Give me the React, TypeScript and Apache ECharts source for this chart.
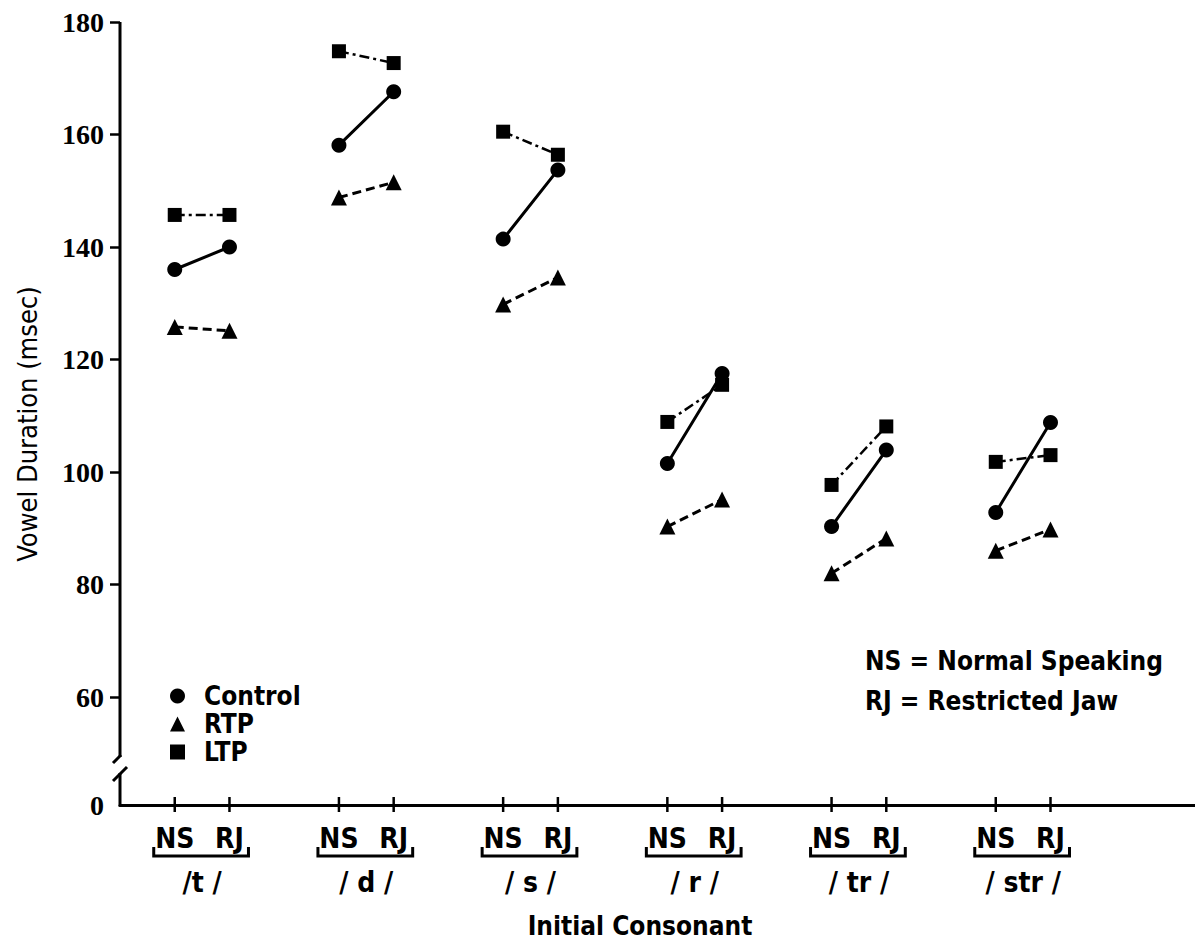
import React, { useEffect, useRef } from 'react';
import * as echarts from 'echarts';

// ---- data ----
const consonants = ['/t /', '/ d /', '/ s /', '/ r /', '/ tr /', '/ str /'];
const conditions = ['NS', 'RJ'];
const controlNS = [136.0, 158.1, 141.4, 101.5, 90.3, 92.8];
const controlRJ = [140.0, 167.6, 153.7, 117.5, 103.9, 108.8];
const rtpNS = [125.8, 148.8, 129.8, 90.3, 82.0, 86.0];
const rtpRJ = [125.1, 151.5, 134.6, 95.1, 88.2, 89.8];
const ltpNS = [145.7, 174.8, 160.5, 108.9, 97.7, 101.8];
const ltpRJ = [145.7, 172.7, 156.4, 115.5, 108.1, 103.0];
const yTicks = [60, 80, 100, 120, 140, 160, 180];
const yBreakValue = 40.8; // plotted position that stands for 0 below the axis break

const FF = "'Liberation Sans Narrow', 'DejaVu Sans Condensed', 'Roboto Condensed', 'Arial Narrow', sans-serif";
const SERIF = "'Liberation Serif', 'DejaVu Serif', serif";

const xPos = (i: number, c: number) => 3 * i + 1 + c;

function pairs(ns: number[], rj: number[]) {
  const d: any[] = [];
  ns.forEach((v, i) => {
    d.push([xPos(i, 0), v]);
    d.push([xPos(i, 1), rj[i]]);
    d.push([xPos(i, 1) + 0.5, null]);
  });
  return d;
}

const xLabelValues: number[] = [];
consonants.forEach((_, i) => conditions.forEach((__, c) => xLabelValues.push(xPos(i, c))));

export default function App() {
  const ref = useRef<HTMLDivElement>(null);
  useEffect(() => {
    document.body.style.margin = '0';
    const chart = echarts.init(ref.current!, undefined, { renderer: 'svg' });
    const option: any = {
      animation: false,
      backgroundColor: '#fff',
      grid: { left: 120, right: 0, top: 22, bottom: 140, containLabel: false },
      xAxis: {
        type: 'value',
        min: 0,
        max: 19.64,
        splitLine: { show: false },
        axisLine: { show: true, onZero: false, lineStyle: { color: '#000', width: 3 } },
        axisTick: { show: false },
        axisLabel: {
          customValues: xLabelValues,
          formatter: (v: number) => conditions[Math.round(v - 1) % 3],
          margin: 19,
          fontSize: 28,
          fontFamily: FF,
          fontWeight: 'bold',
          color: '#000',
          lineHeight: 28,
        },
      },
      yAxis: {
        type: 'value',
        min: yBreakValue,
        max: 180,
        splitLine: { show: false },
        axisLine: { show: false },
        axisTick: { show: true, customValues: yTicks, length: 10, lineStyle: { color: '#000', width: 2.5 } },
        axisLabel: {
          customValues: [yBreakValue, ...yTicks],
          formatter: (v: number) => (v < 50 ? '0' : String(v)),
          margin: 16,
          fontSize: 28,
          fontFamily: SERIF,
          fontWeight: 'bold',
          color: '#000',
        },
      },
      legend: {
        orient: 'vertical',
        left: 165,
        top: 678,
        itemWidth: 15,
        itemHeight: 15,
        itemGap: 2,
        selectedMode: false,
        data: [
          { name: 'Control', icon: 'circle' },
          { name: 'RTP', icon: 'triangle' },
          { name: 'LTP', icon: 'rect' },
        ],
        itemStyle: { color: '#000' },
        textStyle: { fontSize: 26, fontFamily: FF, fontWeight: 'bold', color: '#000', padding: [0, 0, 0, 14], lineHeight: 26 },
      },
      graphic: [
        { type: 'text', left: 865, top: 648, style: { text: 'NS = Normal Speaking', font: `bold 26px ${FF}`, fill: '#000' } },
        { type: 'text', left: 865, top: 688, style: { text: 'RJ = Restricted Jaw', font: `bold 26px ${FF}`, fill: '#000' } },
        { type: 'text', x: 27, y: 424, rotation: Math.PI / 2, style: { text: 'Vowel Duration (msec)', font: `27px ${FF}`, fill: '#000', align: 'center', verticalAlign: 'middle' } },
        { type: 'text', x: 640, y: 926, style: { text: 'Initial Consonant', font: `bold 26px ${FF}`, fill: '#000', align: 'center', verticalAlign: 'middle' } },
      ],
      series: [
        {
          name: 'Control', type: 'line', data: pairs(controlNS, controlRJ), connectNulls: false,
          symbol: 'circle', symbolSize: 15, showSymbol: true,
          lineStyle: { color: '#000', width: 3, type: 'solid' }, itemStyle: { color: '#000' }, z: 3,
        },
        {
          name: 'RTP', type: 'line', data: pairs(rtpNS, rtpRJ), connectNulls: false,
          symbol: 'triangle', symbolSize: 16, showSymbol: true,
          lineStyle: { color: '#000', width: 3, type: [9, 5] }, itemStyle: { color: '#000' }, z: 3,
        },
        {
          name: 'LTP', type: 'line', data: pairs(ltpNS, ltpRJ), connectNulls: false,
          symbol: 'rect', symbolSize: 14, showSymbol: true,
          lineStyle: { color: '#000', width: 2.5, type: [10, 4, 3, 4] }, itemStyle: { color: '#000' }, z: 3,
        },
        {
          type: 'custom',
          silent: true,
          clip: false,
          z: 10,
          data: consonants.map((_, i) => [i, yBreakValue]),
          encode: { x: 0, y: 1 },
          renderItem: (params: any, api: any) => {
            const i = api.value(0);
            const ns = api.coord([xPos(i, 0), yBreakValue]);
            const rj = api.coord([xPos(i, 1), yBreakValue]);
            const y0 = ns[1];
            const ls = { stroke: '#000', lineWidth: 2.5 };
            const children: any[] = [
              { type: 'line', shape: { x1: ns[0], y1: y0 - 8, x2: ns[0], y2: y0 + 7 }, style: ls },
              { type: 'line', shape: { x1: rj[0], y1: y0 - 8, x2: rj[0], y2: y0 + 7 }, style: ls },
              {
                type: 'polyline',
                shape: { points: [[ns[0] - 21, y0 + 42], [ns[0] - 21, y0 + 51], [rj[0] + 19, y0 + 51], [rj[0] + 19, y0 + 42]] },
                style: { stroke: '#000', lineWidth: 3, fill: null },
              },
              {
                type: 'text',
                x: (ns[0] + rj[0]) / 2,
                y: y0 + 77,
                style: { text: consonants[i], font: `bold 28px ${FF}`, fill: '#000', align: 'center', verticalAlign: 'middle' },
              },
            ];
            if (i === 0) {
              const base = api.coord([0, yBreakValue]);
              const top = api.coord([0, 180]);
              const bx = base[0];
              const by = base[1];
              const al = { stroke: '#000', lineWidth: 3 };
              children.push(
                { type: 'line', shape: { x1: bx, y1: top[1], x2: bx, y2: by - 48 }, style: al },
                { type: 'line', shape: { x1: bx, y1: by - 32, x2: bx, y2: by + 1.5 }, style: al },
                { type: 'line', shape: { x1: bx - 7, y1: by - 42, x2: bx + 1, y2: by - 50 }, style: al },
                { type: 'line', shape: { x1: bx - 7, y1: by - 24, x2: bx + 7, y2: by - 38 }, style: al },
              );
            }
            return { type: 'group', children };
          },
        },
      ],
    };
    chart.setOption(option);
    return () => chart.dispose();
  }, []);
  return <div ref={ref} style={{ width: 1195, height: 945 }} />;
}
